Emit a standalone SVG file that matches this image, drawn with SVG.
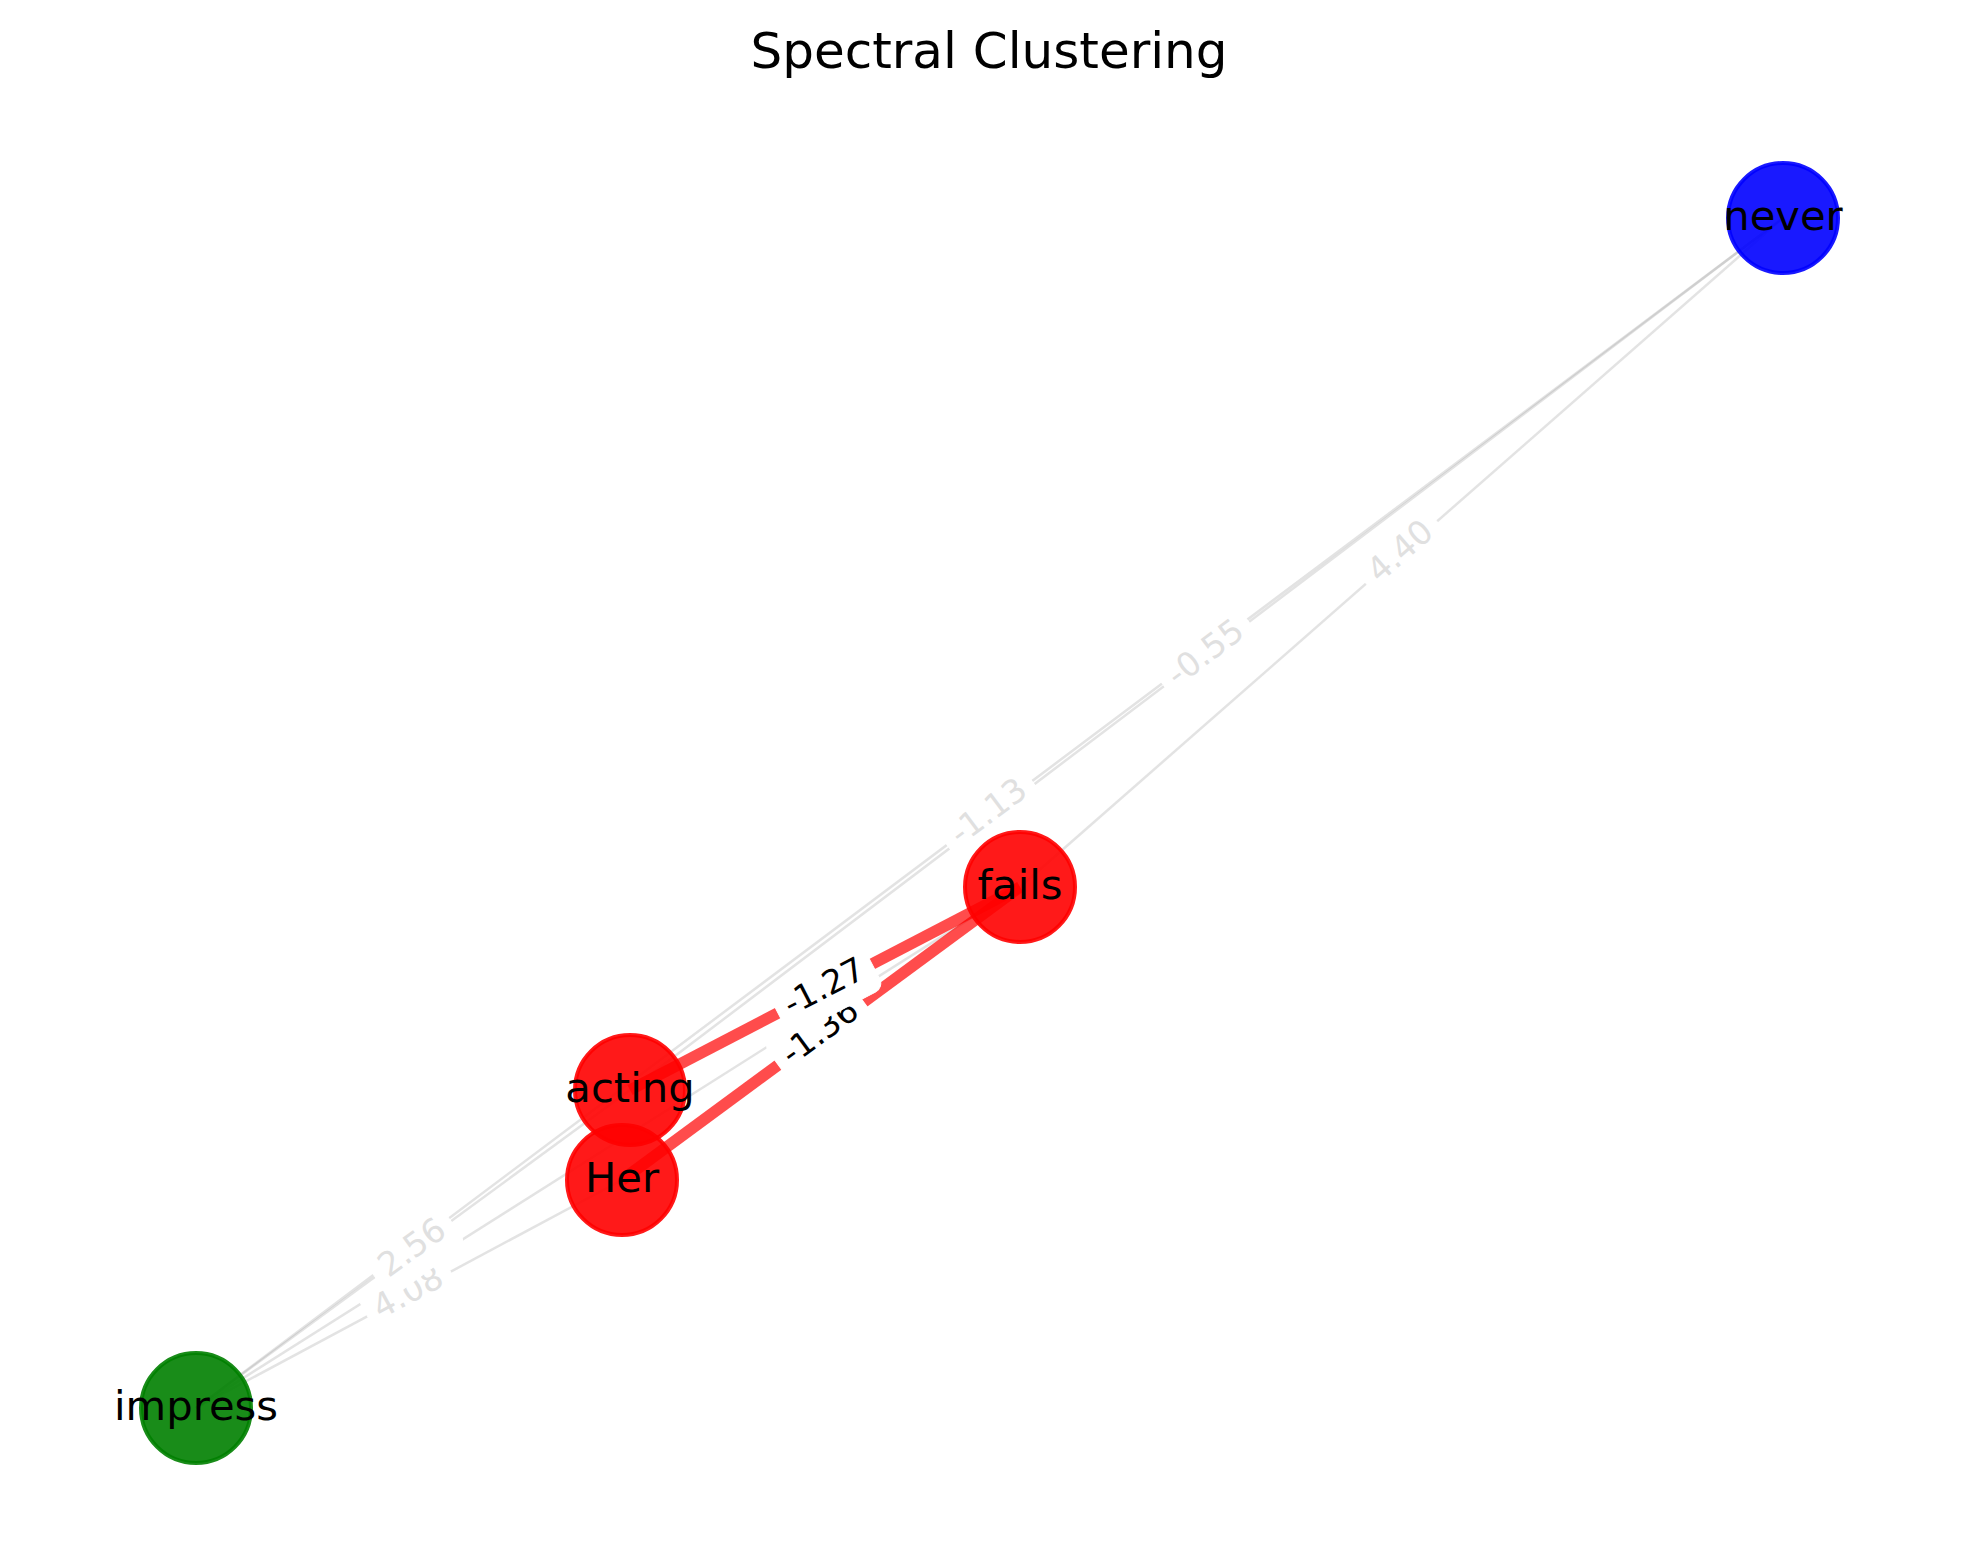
<svg xmlns="http://www.w3.org/2000/svg" width="1980" height="1563" viewBox="0 0 1980 1563">
<style>
.bg{fill:#ffffff}
.title{font-family:"DejaVu Sans","Liberation Sans",sans-serif;font-size:50px;fill:#000;text-anchor:middle}
.ge{stroke:#999999;stroke-opacity:0.28;stroke-width:2.5;fill:none}
.re{stroke:#ff0000;stroke-opacity:0.7;stroke-width:11.5;fill:none}
.lbox{fill:#ffffff;stroke:#ffffff;stroke-width:1}
.gl{font-family:"DejaVu Sans","Liberation Sans",sans-serif;font-size:33.3px;fill:#e0e0e0;text-anchor:middle}
.rl{font-family:"DejaVu Sans","Liberation Sans",sans-serif;font-size:33.3px;fill:#000000;text-anchor:middle}
.node{stroke-width:4;fill-opacity:0.9;stroke-opacity:0.9}
.red{fill:#ff0000;stroke:#ff0000}
.blue{fill:#0000ff;stroke:#0000ff}
.green{fill:#008000;stroke:#008000}
.nl{font-family:"DejaVu Sans","Liberation Sans",sans-serif;font-size:41.7px;fill:#000;text-anchor:middle}
</style>
<rect class="bg" x="0" y="0" width="1980" height="1563"/>
<text class="title" x="989" y="68">Spectral Clustering</text>

<g id="connectors">
  <line class="ge" x1="196" y1="1408" x2="622" y2="1180"/>
  <line class="ge" x1="196" y1="1408" x2="630" y2="1090"/>
  <line class="ge" x1="1783" y1="218" x2="630" y2="1090"/>
  <line class="ge" x1="1783" y1="218" x2="1020" y2="887"/>
  <line class="ge" x1="1020" y1="887" x2="196" y2="1408"/>
  <line class="ge" x1="1783" y1="218" x2="196" y2="1408"/>
  <line class="re" x1="622" y1="1180" x2="1020" y2="887"/>
  <line class="re" x1="630" y1="1090" x2="1020" y2="887"/>
</g>

<g id="edge-labels">
  <g transform="translate(409,1294) rotate(-28.2)">
    <rect class="lbox" x="-47" y="-26.5" width="94" height="53" rx="10"/>
    <text class="gl" x="0" y="9">4.08</text>
  </g>
  <g transform="translate(821,1033.5) rotate(-36.4)">
    <rect class="lbox" x="-53" y="-26.5" width="106" height="53" rx="10"/>
    <text class="rl" x="0" y="9">-1.36</text>
  </g>
  <g transform="translate(825,988.5) rotate(-27.5)">
    <rect class="lbox" x="-53" y="-26.5" width="106" height="53" rx="10"/>
    <text class="rl" x="0" y="9">-1.27</text>
  </g>
  <g transform="translate(413,1249) rotate(-36.2)">
    <rect class="lbox" x="-47" y="-26.5" width="94" height="53" rx="10"/>
    <text class="gl" x="0" y="9">2.56</text>
  </g>
  <g transform="translate(1206.5,654) rotate(-37.1)">
    <rect class="lbox" x="-53" y="-26.5" width="106" height="53" rx="10"/>
    <text class="gl" x="0" y="9">-0.55</text>
  </g>
  <g transform="translate(1401.5,552.5) rotate(-41.2)">
    <rect class="lbox" x="-47" y="-26.5" width="94" height="53" rx="10"/>
    <text class="gl" x="0" y="9">4.40</text>
  </g>
  <g transform="translate(989.5,813) rotate(-36.9)">
    <rect class="lbox" x="-53" y="-26.5" width="106" height="53" rx="10"/>
    <text class="gl" x="0" y="9">-1.13</text>
  </g>
</g>

<g id="node-Her">
  <circle class="node red" cx="622" cy="1180" r="55"/>
  <text class="nl" x="622" y="1191.5">Her</text>
</g>
<g id="node-acting">
  <circle class="node red" cx="630" cy="1090" r="55"/>
  <text class="nl" x="630" y="1101.5">acting</text>
</g>
<g id="node-fails">
  <circle class="node red" cx="1020" cy="887" r="55"/>
  <text class="nl" x="1020" y="898.5">fails</text>
</g>
<g id="node-never">
  <circle class="node blue" cx="1783" cy="218" r="55"/>
  <text class="nl" x="1783" y="229.5">never</text>
</g>
<g id="node-impress">
  <circle class="node green" cx="196" cy="1408" r="55"/>
  <text class="nl" x="196" y="1419.5">impress</text>
</g>
</svg>
